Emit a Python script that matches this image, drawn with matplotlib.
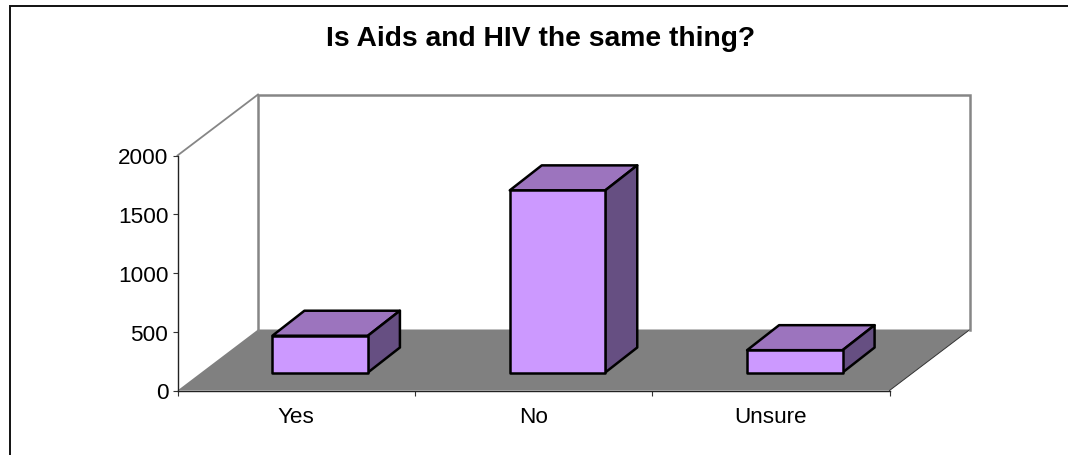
import matplotlib
matplotlib.use("Agg")
import matplotlib.pyplot as plt
from matplotlib.patches import Polygon
from matplotlib.lines import Line2D

categories = ["Yes", "No", "Unsure"]
values = [313, 1550, 190]
yticks = [0, 500, 1000, 1500, 2000]
title = "Is Aids and HIV the same thing?"

W, H = 1068, 456
AX_L, AX_R, AX_T, AX_B = 177.5, 889.5, 156.5, 391.5   # front plane, pixels
DEPTH_X, DEPTH_Y = 80.5, 61                            # floor depth, pixels
BAR_DX, BAR_DY = 32, 25                                # bar depth, pixels
BAR_W_PX = 95.5
BASE_X, BASE_Y = 24, 18                                # bar base offset, pixels

FRONT = "#CC99FF"
TOP = "#9C74BE"
SIDE = "#664F82"
FLOOR = "#808080"
WALL = "#868686"

plt.rcParams["font.family"] = ["Liberation Sans", "DejaVu Sans"]
fig = plt.figure(figsize=(W / 100, H / 100), dpi=100, facecolor="white")
# the outer chart border is cropped: only its top and left edges are in the picture
fig.add_artist(Line2D([9.7 / W, 9.7 / W, 1], [0, 1 - 6.5 / H, 1 - 6.5 / H], color="#111111", lw=1.4,
                      transform=fig.transFigure, solid_joinstyle="miter"))

ax = fig.add_axes([AX_L / W, 1 - AX_B / H, (AX_R - AX_L) / W, (AX_B - AX_T) / H])
ax.set_xlim(0, len(categories))
ax.set_ylim(0, yticks[-1])
ax.patch.set_visible(False)
for s in ("top", "right"):
    ax.spines[s].set_visible(False)
for s in ("left", "bottom"):
    ax.spines[s].set_linewidth(1.0)
    ax.spines[s].set_color("#222222")
    ax.spines[s].set_zorder(6)

px = (AX_R - AX_L) / len(categories)          # pixels per category
py = (AX_B - AX_T) / yticks[-1]               # pixels per value unit
ddx, ddy = DEPTH_X / px, DEPTH_Y / py
bdx, bdy = BAR_DX / px, BAR_DY / py
bw = BAR_W_PX / px
bx, by = BASE_X / px, BASE_Y / py
ymax, n = yticks[-1], len(categories)

ax.add_patch(Polygon([(0, 0), (n, 0), (n + ddx, ddy), (ddx, ddy)], fc=FLOOR, ec="none",
                     clip_on=False, zorder=1))
ax.plot([n, n + ddx], [0, ddy], color="#333333", lw=0.7, clip_on=False, zorder=1)
ax.plot([ddx, ddx, n + ddx, n + ddx], [ddy, ymax + ddy, ymax + ddy, ddy], color=WALL, lw=1.8,
        clip_on=False, zorder=1, solid_joinstyle="miter")
ax.plot([0, ddx], [ymax, ymax + ddy], color=WALL, lw=1.3, clip_on=False, zorder=1)

for i, v in enumerate(values):
    x0 = i + 0.5 + bx - bw / 2
    x1 = x0 + bw
    y0, y1 = by, by + v
    kw = dict(ec="black", lw=1.8, joinstyle="round", clip_on=False, zorder=3)
    ax.add_patch(Polygon([(x0, y1), (x1, y1), (x1 + bdx, y1 + bdy), (x0 + bdx, y1 + bdy)], fc=TOP, **kw))
    ax.add_patch(Polygon([(x1, y0), (x1 + bdx, y0 + bdy), (x1 + bdx, y1 + bdy), (x1, y1)], fc=SIDE, **kw))
    ax.add_patch(Polygon([(x0, y0), (x1, y0), (x1, y1), (x0, y1)], fc=FRONT, **kw))

ax.set_yticks(yticks)
ax.set_yticklabels([str(t) for t in yticks], fontsize=16.2, color="black")
ax.set_xticks(range(n + 1))
ax.set_xticklabels([""] * (n + 1))
ax.tick_params(axis="both", length=3.6, width=0.8, color="#333333", direction="out", pad=3)
for i, c in enumerate(categories):
    ax.text(i + 0.5, -225, c, ha="center", va="center", fontsize=16.2, color="black", clip_on=False)

fig.text(541 / W, 1 - 39.5 / H, title, ha="center", va="center", fontsize=20.3,
         fontweight="bold", color="black")

fig.savefig("out.png", dpi=100, facecolor="white")
